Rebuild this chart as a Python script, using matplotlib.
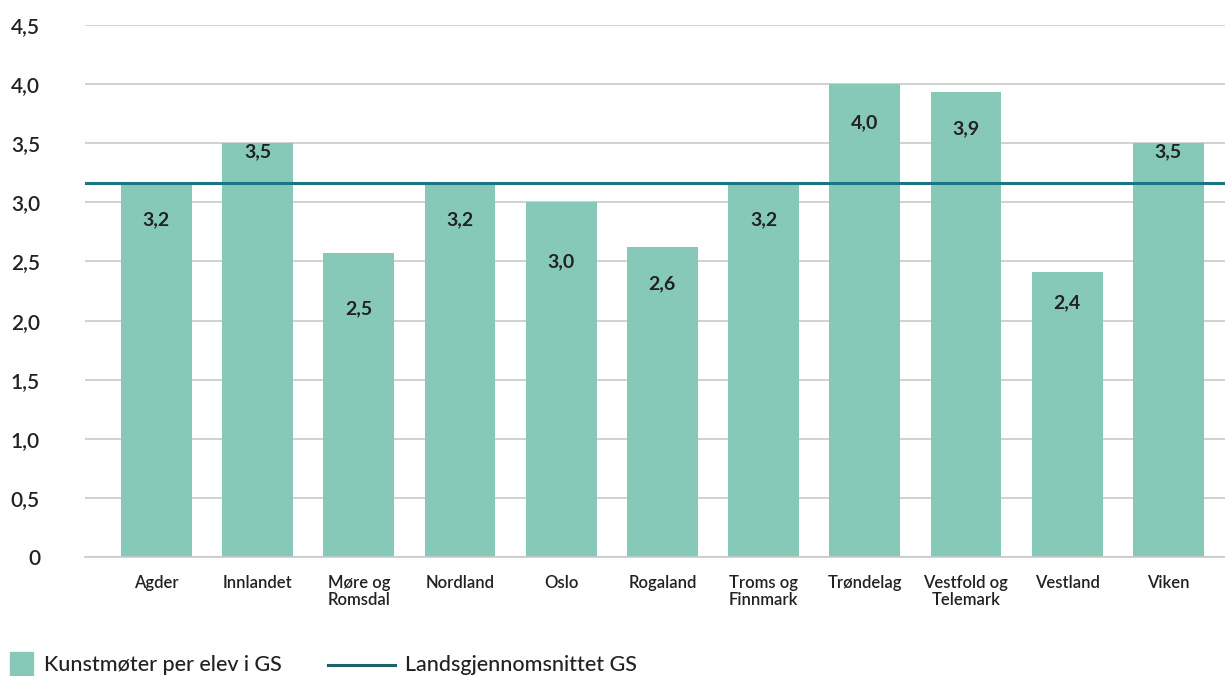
import matplotlib
matplotlib.use('Agg')
import matplotlib.pyplot as plt
from matplotlib.patches import Rectangle
from matplotlib.lines import Line2D
import numpy as np

plt.rcParams['font.family'] = ['Lato', 'DejaVu Sans']

# data
regions = ['Agder', 'Innlandet', 'Møre og\nRomsdal', 'Nordland', 'Oslo', 'Rogaland',
           'Troms og\nFinnmark', 'Trøndelag', 'Vestfold og\nTelemark', 'Vestland', 'Viken']
values = [3.16, 3.5, 2.57, 3.16, 3.0, 2.62, 3.16, 4.0, 3.93, 2.41, 3.5]
value_labels = ['3,2', '3,5', '2,5', '3,2', '3,0', '2,6', '3,2', '4,0', '3,9', '2,4', '3,5']
national_avg = 3.16
yticks = [0, 0.5, 1.0, 1.5, 2.0, 2.5, 3.0, 3.5, 4.0, 4.5]
ytick_labels = ['0', '0,5', '1,0', '1,5', '2,0', '2,5', '3,0', '3,5', '4,0', '4,5']

# label drop below bar top, in points (as placed in the original)
label_drop = [26, 6, 40, 26, 43, 26, 26, 28, 26, 22, 6]

bar_color = '#86c9b9'
line_color = '#1b7585'
grid_color = '#c9c9c9'
text_color = '#222222'

fig = plt.figure(figsize=(12.25, 6.76), dpi=100)
ax = fig.add_axes([0.069, 0.176, 0.931, 0.787])

x = np.arange(len(regions))
bars = ax.bar(x, values, width=0.70, color=bar_color, zorder=2)
ax.axhline(national_avg, color=line_color, lw=2.2, zorder=3)

for xi, v, lab, d in zip(x, values, value_labels, label_drop):
    ax.annotate(lab, (xi, v), xytext=(0, -d), textcoords='offset points',
                ha='center', va='center', fontsize=14, fontweight='bold',
                color=text_color, zorder=4)

ax.set_ylim(0, 4.5)
ax.set_xlim(-0.71, len(regions) - 1 + 0.56)
ax.set_yticks(yticks)
ax.set_yticklabels(ytick_labels, fontsize=15, color=text_color, fontweight='semibold')
ax.set_xticks(x)
ax.set_xticklabels(regions, fontsize=12, color=text_color, linespacing=1.1,
                   fontweight='semibold')
ax.tick_params(axis='y', length=0, pad=32)
ax.tick_params(axis='x', length=0, pad=13)
for lbl in ax.get_yticklabels():
    lbl.set_horizontalalignment('right')

ax.yaxis.grid(True, color=grid_color, lw=1.2, zorder=0)
ax.set_axisbelow(True)
for s in ['top', 'right', 'left']:
    ax.spines[s].set_visible(False)
ax.spines['bottom'].set_color(grid_color)
ax.spines['bottom'].set_linewidth(1.2)

# legend drawn by hand at the bottom
fig.patches.append(Rectangle((10 / 1225, 0), 23 / 1225, 24 / 676,
                             transform=fig.transFigure, color=bar_color))
fig.text(44 / 1225, 11 / 676, 'Kunstmøter per elev i GS', fontsize=15.5,
         va='center', ha='left', color=text_color, fontweight='medium')
fig.lines.append(Line2D([328 / 1225, 395 / 1225], [11 / 676, 11 / 676],
                        transform=fig.transFigure, color='#1f5f66', lw=2.2))
fig.text(405 / 1225, 11 / 676, 'Landsgjennomsnittet GS', fontsize=15.5,
         va='center', ha='left', color=text_color, fontweight='medium')

fig.savefig('out.png', dpi=100)
